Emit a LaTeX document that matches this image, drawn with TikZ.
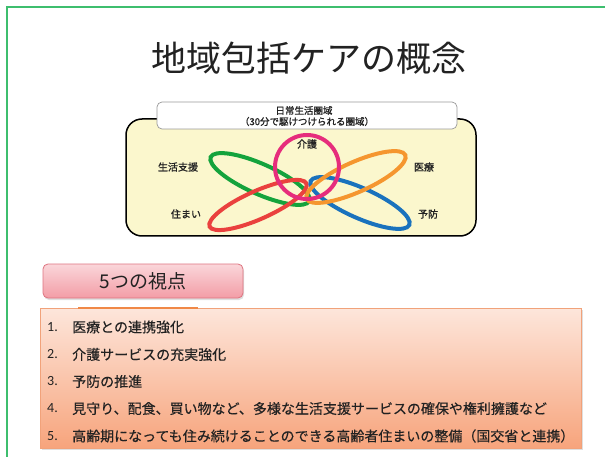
\documentclass[tikz,border=0pt]{standalone}
\usepackage{fontspec}
\setmainfont{Noto Sans CJK JP}
\newfontfamily\numfont{Carlito}
\newfontfamily\labelfont[FakeBold=1.2]{Noto Sans CJK JP}
\newfontfamily\itemfont[FakeBold=0.4]{Noto Sans CJK JP}
\usetikzlibrary{shadows}
\definecolor{framegreen}{HTML}{3DBE6E}
\definecolor{areafill}{HTML}{FBF7CD}
\definecolor{ringgreen}{HTML}{14A33C}
\definecolor{ringred}{HTML}{EA413E}
\definecolor{ringorange}{HTML}{F5962F}
\definecolor{ringblue}{HTML}{1A72BD}
\definecolor{ringpink}{HTML}{E62D7C}
\definecolor{headtop}{HTML}{FAD6DA}
\definecolor{headbot}{HTML}{F39DA6}
\definecolor{headline}{HTML}{DE7480}
\definecolor{listtop}{HTML}{FDE6DB}
\definecolor{listbot}{HTML}{F7A47C}
\definecolor{listline}{HTML}{F1A27A}
\definecolor{tabline}{HTML}{F08846}
\definecolor{textdark}{HTML}{222222}
\tikzset{
  ring/.style={line width=4pt},
  smalllabel/.style={text=textdark, font=\labelfont\fontsize{9.5}{11}\selectfont, inner sep=0pt},
  ringlabel/.style={text=textdark, font=\labelfont\fontsize{10}{12}\selectfont, inner sep=0pt},
  listitem/.style={anchor=west, text=textdark, font=\itemfont\fontsize{14}{16}\selectfont, inner sep=0pt},
  listnum/.style={anchor=west, text=textdark, font=\numfont\fontsize{14}{16}\selectfont, inner sep=0pt},
}
\begin{document}
\begin{tikzpicture}[x=1pt,y=-1pt]
\useasboundingbox (0,0) rectangle (605,457);
\fill[white] (0,0) rectangle (605,457);
% frame
\draw[framegreen, line width=1.3pt] (7,457) -- (7,7) -- (605,7);
% title
\node[text=textdark, inner sep=0pt] (title) at (309,58) {\fontsize{35}{40}\selectfont 地域包括ケアの概念};
% area box
\draw[fill=areafill, line width=1.5pt, rounded corners=16pt] (126,119) rectangle (476,236);
\node[draw=gray!80, line width=0.7pt, fill=white, rounded corners=5pt, minimum width=300pt, minimum height=27pt, inner sep=0pt] (areabox) at (307,115.5) {};
\node[smalllabel] (areal1) at (304,110.5) {日常生活圏域};
\node[smalllabel] (areal2) at (307,121.5) {（30分で駆けつけられる圏域）};
% rings
\draw[ring, ringgreen, rotate around={-24:(260,179)}] (260,179) ellipse [x radius=54pt, y radius=15pt];
\draw[ring, ringred, rotate around={24:(258,205)}] (258,205) ellipse [x radius=53pt, y radius=14pt];
\draw[ring, ringblue, rotate around={-24:(360,203)}] (360,203) ellipse [x radius=54pt, y radius=15pt];
\draw[ring, ringorange, rotate around={24:(356,177)}] (356,177) ellipse [x radius=54pt, y radius=15pt];
\draw[ring, ringpink] (307,167) circle [radius=32pt];
% ring labels
\node[ringlabel] (kaigo) at (307,144) {介護};
\node[ringlabel] (seikatsu) at (178,167) {生活支援};
\node[ringlabel] (iryo) at (424,167) {医療};
\node[ringlabel] (sumai) at (186,214) {住まい};
\node[ringlabel] (yobo) at (428,214) {予防};
% heading box
\shade[top color=headtop, bottom color=headbot, draw=headline, line width=0.8pt, rounded corners=5pt,
  drop shadow={shadow xshift=1pt, shadow yshift=-2pt, opacity=0.25}] (43,264) rectangle (243,298);
\node[text=textdark, inner sep=0pt] (head) at (143,281) {\fontsize{19}{22}\selectfont 5つの視点};
% list box
\shade[top color=listtop, bottom color=listbot, draw=listline, line width=0.8pt,
  drop shadow={shadow xshift=1.5pt, shadow yshift=-2pt, opacity=0.25}] (40,308) rectangle (581,448);
\draw[tabline, line width=2pt] (78,307.5) -- (198,307.5);
\node[listnum] (n1) at (47,327) {1.};
\node[listnum] (n2) at (47,354.5) {2.};
\node[listnum] (n3) at (47,381.5) {3.};
\node[listnum] (n4) at (47,408.5) {4.};
\node[listnum] (n5) at (47,436) {5.};
\node[listitem] (i1) at (72,327) {医療との連携強化};
\node[listitem] (i2) at (72,354.5) {介護サービスの充実強化};
\node[listitem] (i3) at (72,381.5) {予防の推進};
\node[listitem] (i4) at (72,408.5) {見守り、配食、買い物など、多様な生活支援サービスの確保や権利擁護など};
\node[listitem] (i5) at (72,436) {高齢期になっても住み続けることのできる高齢者住まいの整備（国交省と連携）};
\end{tikzpicture}
\end{document}
